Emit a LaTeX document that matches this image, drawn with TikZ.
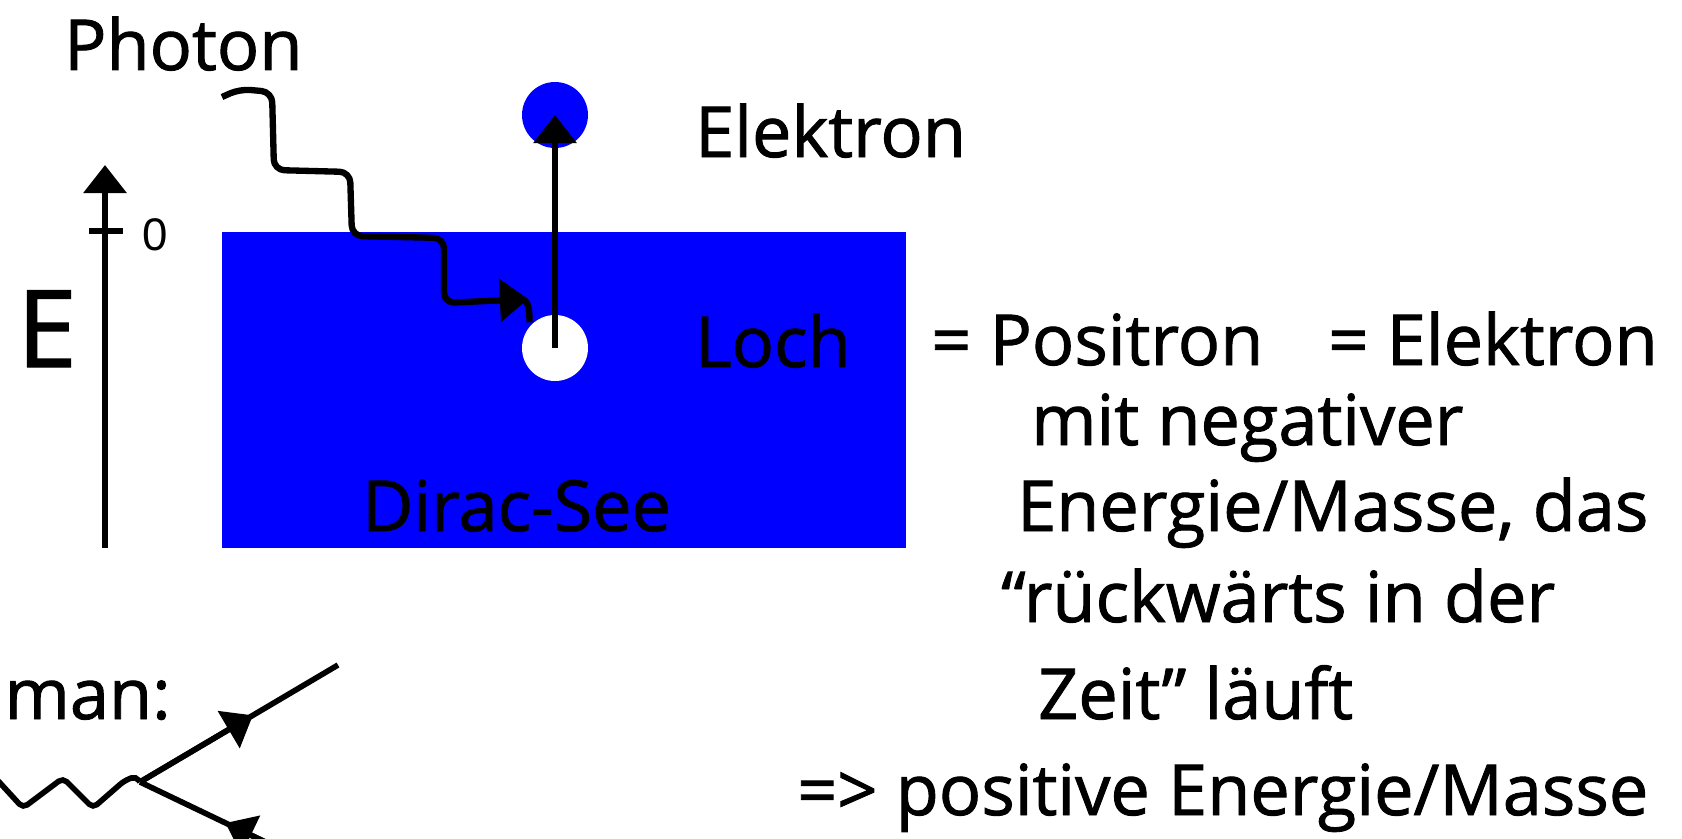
\documentclass[tikz,border=0pt]{standalone}
\usepackage{fontspec}
\setmainfont{Open Sans}[FakeBold=1.3]
\newfontfamily\zerofont{Liberation Sans}
\usetikzlibrary{arrows.meta,calc}
\definecolor{seeblue}{RGB}{0,0,255}

\begin{document}
\begin{tikzpicture}[x=0.02cm,y=-0.02cm,line width=3.6pt,
  tip/.style={-{Triangle[width=24pt,length=16pt]}},
  txt/.style={inner sep=0pt,anchor=base west,font=\fontsize{40}{48}\selectfont},
  ball/.style={circle,inner sep=0pt,minimum size=1.32cm},
  fline/.style={line width=3.2pt}]

\useasboundingbox (0,0) rectangle (1682,838);
\clip (0,0) rectangle (1682,838);

% --- Dirac-See ---
\fill[seeblue] (222,232) rectangle (906,548);
\node[txt] (see) at (359,531) {Dirac-See};

% --- Energieachse ---
\draw[tip] (105,548) -- (105,165);
\draw (89,231) -- (123,231);
\node[inner sep=0pt,anchor=base west,font=\zerofont\fontsize{26}{30}\selectfont] (null) at (139,250) {0};
\node[inner sep=0pt,anchor=base west,font=\fontsize{61}{70}\selectfont] (energie) at (14,367) {E};

% --- Elektron und Loch ---
\node[ball,fill=seeblue] (elek) at (555,115) {};
\node[ball,fill=white] (loch) at (555,348) {};
\draw[tip] (loch.center) -- (elek.center);
\node[txt] (elektxt) at (692,157) {Elektron};
\node[txt] (lochtxt) at (692,367) {Loch};

% --- Photon ---
\coordinate (phstart) at (222,97);
\node[txt] (photon) at (61,70) {Photon};
\draw[tip,rounded corners=6pt] (phstart) -- (240,89) -- (272,92) -- (274,170)
  -- (350,172) -- (352,236) -- (444,238) -- (444,303) -- (528,299);
\draw (520,299) to[out=0,in=90] (loch.north west);

% --- Erklaerung ---
\node[txt] (posi) at (928,365) {= Positron\hspace{1.3cm}= Elektron};
\node[txt] (zeile2) at (1028,445) {mit negativer};
\node[txt] (zeile3) at (1014,531) {Energie/Masse, das};
\node[txt] (zeile4) at (998,622) {“rückwärts in der};
\node[txt] (zeile5) at (1035,719) {Zeit” läuft};
\node[txt] (zeile6) at (794,815) {=> positive Energie/Masse};

% --- Feynman-Graph ---
\node[txt,anchor=base east] (feyn) at (174,719) {Feynman:};
\coordinate (vtx) at (140,782);
\coordinate (eout) at (338,665);
\coordinate (pin) at (330,873);
\draw[fline] (vtx) -- (eout);
\draw[fline,tip] (vtx) -- ($(vtx)!0.57!(eout)$);
\draw[fline] (pin) -- (vtx);
\draw[fline,tip] (pin) -- ($(pin)!0.55!(vtx)$);
\draw[fline,rounded corners=3pt] (-10,772) -- (23,808) -- (63,778) -- (93,808)
  -- (124,781) -- (136,776) -- (vtx);

\end{tikzpicture}
\end{document}
